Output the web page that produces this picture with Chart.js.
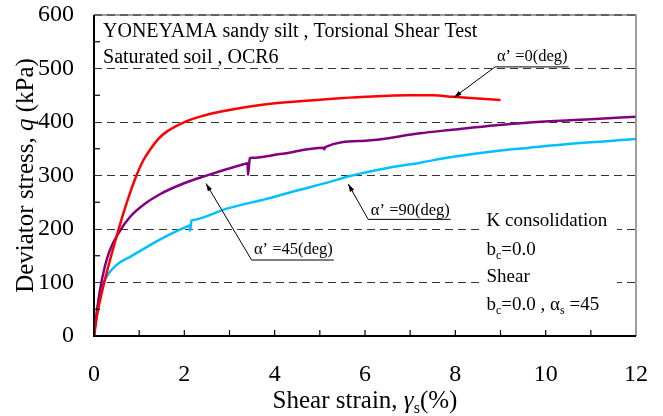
<!DOCTYPE html>
<html>
<head>
<meta charset="utf-8">
<script src="https://cdn.jsdelivr.net/npm/chart.js@4.4.0/dist/chart.umd.min.js"></script>
<style>
  html, body { margin: 0; padding: 0; background: #fff; }
</style>
</head>
<body>
<canvas id="chart" width="663" height="416"></canvas>
<script>
// --- dados ---
const xTickValues = [0, 2, 4, 6, 8, 10, 12];
const yTickValues = [0, 100, 200, 300, 400, 500, 600];

// alpha' = 0 (vermelho)
const strain0 = [0, 0.074, 0.17, 0.317, 0.5, 0.65, 0.8, 0.94, 1.09, 1.24, 1.42, 1.61, 1.98, 2.35, 2.79, 3.45, 4.0, 5.22, 6.0, 7.0, 7.5, 7.95, 8.5, 9.0];
const stress0 = [0, 42, 80, 130, 186, 229, 268, 300, 328, 348, 368, 382, 399, 410, 419, 429, 435, 443, 447, 450, 450, 447, 444, 441];

// alpha' = 45 (roxo)
const strain45 = [0, 0.04, 0.133, 0.24, 0.354, 0.54, 0.8, 1.09, 1.46, 1.98, 2.42, 3.31, 3.40, 3.41, 3.45, 3.50, 4.12, 5.08, 5.10, 5.12, 6.0, 7.22, 7.88, 8.91, 9.65, 11.0, 12.0];
const stress45 = [0, 30, 86, 130, 161, 192, 223, 245, 265, 285, 298, 321, 323, 301, 332, 333, 340, 352, 349, 353, 365, 379, 385, 394, 399, 405, 410];

// alpha' = 90 (ciano)
const strain90 = [0, 0.044, 0.133, 0.28, 0.5, 0.8, 1.24, 1.68, 2.09, 2.12, 2.125, 2.16, 2.18, 2.94, 3.9, 4.5, 5.22, 5.67, 6.5, 7.22, 7.88, 8.91, 9.65, 10.5, 12.0];
const stress90 = [0, 30, 80, 111, 133, 148, 170, 190, 206, 207, 197, 216, 216.6, 238, 258, 272, 288, 299, 314, 324, 334, 346, 352, 359, 368];

const serif = "'Liberation Serif', 'DejaVu Serif', serif";
Chart.defaults.font.family = serif;
Chart.defaults.color = '#000';

function pares(xs, ys) {
    return xs.map((x, i) => ({ x: x, y: ys[i] }));
}

// --- textos com sub-indice / italico ---
function fontOf(seg, size) {
    const s = seg.sub ? Math.round(size * 0.62) : size;
    return (seg.italic ? 'italic ' : '') + s + 'px ' + serif;
}
function larguraRica(ctx, segs, size) {
    let w = 0;
    segs.forEach(seg => { ctx.font = fontOf(seg, size); w += ctx.measureText(seg.t).width; });
    return w;
}
function desenhaRico(ctx, segs, x, y, size, align) {
    const total = larguraRica(ctx, segs, size);
    let cx = align === 'center' ? x - total / 2 : x;
    ctx.textBaseline = 'alphabetic';
    ctx.textAlign = 'left';
    segs.forEach(seg => {
        ctx.font = fontOf(seg, size);
        ctx.fillText(seg.t, cx, seg.sub ? y + size * 0.2 : y);
        cx += ctx.measureText(seg.t).width;
    });
    return total;
}

// anotacoes (posicoes em unidades do grafico)
const textosCaixa = [
    { x: 0.2, y: 558, segs: [{ t: 'YONEYAMA sandy silt , Torsional Shear Test' }] },
    { x: 0.2, y: 510, segs: [{ t: 'Saturated soil , OCR6' }] }
];
const textosDireita = [
    { x: 8.69, y: 206, segs: [{ t: 'K consolidation' }] },
    { x: 8.69, y: 151, segs: [{ t: 'b' }, { t: 'c', sub: true }, { t: '=0.0' }] },
    { x: 8.69, y: 101.5, segs: [{ t: 'Shear' }] },
    { x: 8.69, y: 48.6, segs: [{ t: 'b' }, { t: 'c', sub: true }, { t: '=0.0 , α' }, { t: 's', sub: true }, { t: ' =45' }] }
];
const setas = [
    { texto: 'α’ =0(deg)', tx: 8.92, ty: 514, ly: 503, lx: 8.88, px: 7.97, py: 446 },
    { texto: 'α’ =90(deg)', tx: 6.13, ty: 226, ly: 218, lx: 6.07, px: 5.63, py: 284 },
    { texto: 'α’ =45(deg)', tx: 3.54, ty: 153, ly: 142, lx: 3.49, px: 2.48, py: 285 }
];

const pluginMoldura = {
    id: 'moldura',
    beforeDatasetsDraw(chart) {
        const ctx = chart.ctx, xs = chart.scales.x, ys = chart.scales.y;
        // fundo branco da legenda da direita (corta as linhas tracejadas)
        ctx.save();
        ctx.fillStyle = '#fff';
        const x1 = xs.getPixelForValue(8.59), x2 = xs.getPixelForValue(11.58);
        const y1 = ys.getPixelForValue(245), y2 = ys.getPixelForValue(34);
        ctx.fillRect(x1, y1, x2 - x1, y2 - y1);
        ctx.restore();
    },
    afterDatasetsDraw(chart) {
        const ctx = chart.ctx, xs = chart.scales.x, ys = chart.scales.y;
        const a = chart.chartArea;
        ctx.save();

        // marcas menores para dentro
        ctx.strokeStyle = '#000';
        ctx.lineWidth = 1.2;
        for (let v = 50; v < 600; v += 100) {
            const py = ys.getPixelForValue(v);
            ctx.beginPath(); ctx.moveTo(a.left, py); ctx.lineTo(a.left + 6, py); ctx.stroke();
        }
        for (let v = 1; v < 12; v += 1) {
            const px = xs.getPixelForValue(v);
            ctx.beginPath(); ctx.moveTo(px, a.bottom); ctx.lineTo(px, a.bottom - 6); ctx.stroke();
        }

        // moldura
        ctx.lineWidth = 1.5;
        ctx.strokeStyle = '#808080';
        ctx.beginPath(); ctx.moveTo(a.left, a.top); ctx.lineTo(a.right, a.top); ctx.lineTo(a.right, a.bottom); ctx.stroke();
        ctx.setLineDash([8, 5]);
        ctx.strokeStyle = '#222';
        ctx.lineWidth = 1;
        ctx.beginPath(); ctx.moveTo(a.left, a.top); ctx.lineTo(a.right, a.top); ctx.stroke();
        ctx.setLineDash([]);
        ctx.strokeStyle = '#000';
        ctx.lineWidth = 2;
        ctx.beginPath(); ctx.moveTo(a.left, a.top); ctx.lineTo(a.left, a.bottom); ctx.lineTo(a.right, a.bottom); ctx.stroke();

        // textos
        ctx.fillStyle = '#000';
        textosCaixa.forEach(t => desenhaRico(ctx, t.segs, xs.getPixelForValue(t.x), ys.getPixelForValue(t.y), 20, 'left'));
        textosDireita.forEach(t => desenhaRico(ctx, t.segs, xs.getPixelForValue(t.x), ys.getPixelForValue(t.y), 19, 'left'));

        // setas com rotulo sublinhado
        setas.forEach(s => {
            const tx = xs.getPixelForValue(s.tx), ty = ys.getPixelForValue(s.ty);
            const w = desenhaRico(ctx, [{ t: s.texto }], tx, ty, 16.5, 'left');
            const lx = xs.getPixelForValue(s.lx), ly = ys.getPixelForValue(s.ly);
            const px = xs.getPixelForValue(s.px), py = ys.getPixelForValue(s.py);
            ctx.strokeStyle = '#000';
            ctx.lineWidth = 1;
            ctx.beginPath(); ctx.moveTo(tx + w + 1, ly); ctx.lineTo(lx, ly); ctx.lineTo(px, py); ctx.stroke();
            const ang = Math.atan2(py - ly, px - lx);
            ctx.beginPath();
            ctx.moveTo(px, py);
            ctx.lineTo(px - 8 * Math.cos(ang - 0.3), py - 8 * Math.sin(ang - 0.3));
            ctx.lineTo(px - 8 * Math.cos(ang + 0.3), py - 8 * Math.sin(ang + 0.3));
            ctx.closePath();
            ctx.fill();
        });

        // titulos dos eixos
        const cy = (a.top + a.bottom) / 2;
        ctx.save();
        ctx.translate(33, cy);
        ctx.rotate(-Math.PI / 2);
        desenhaRico(ctx, [{ t: 'Deviator stress, ' }, { t: 'q', italic: true }, { t: ' (kPa)' }], 0, 0, 25, 'center');
        ctx.restore();
        desenhaRico(ctx, [{ t: 'Shear strain, ' }, { t: 'γ', italic: true }, { t: 's', sub: true }, { t: '(%)' }], (a.left + a.right) / 2, 408, 25, 'center');

        ctx.restore();
    }
};

const serie = (label, xs, ys, cor) => ({
    label: label,
    data: pares(xs, ys),
    borderColor: cor,
    borderWidth: 2.5,
    pointRadius: 0,
    fill: false,
    cubicInterpolationMode: 'monotone'
});

const semCor = 'rgba(0,0,0,0)';

new Chart(document.getElementById('chart'), {
    type: 'line',
    data: {
        datasets: [
            serie("α' = 0", strain0, stress0, '#ff0000'),
            serie("α' = 45", strain45, stress45, '#800080'),
            serie("α' = 90", strain90, stress90, '#00c0ff')
        ]
    },
    options: {
        responsive: false,
        animation: false,
        devicePixelRatio: 1,
        layout: { padding: { left: 0, right: 27, top: 15, bottom: 0 } },
        plugins: { legend: { display: false }, tooltip: { enabled: false } },
        scales: {
            x: {
                type: 'linear', min: 0, max: 12,
                afterBuildTicks: s => { s.ticks = xTickValues.map(v => ({ value: v })); },
                afterFit: s => { s.height = 80; },
                // marcas invisiveis so para afastar os rotulos do eixo
                grid: { display: true, color: semCor, drawTicks: true, tickLength: 24, tickColor: semCor },
                border: { display: false },
                ticks: { font: { size: 24 }, padding: 0, maxRotation: 0 }
            },
            y: {
                type: 'linear', min: 0, max: 600,
                afterBuildTicks: s => { s.ticks = yTickValues.map(v => ({ value: v })); },
                afterFit: s => { s.width = 94; },
                grid: {
                    drawTicks: true,
                    tickLength: 20,
                    tickColor: semCor,
                    color: c => (c.tick.value > 0 && c.tick.value < 600) ? '#333' : semCor,
                    lineWidth: 1
                },
                border: { display: false, dash: [8, 5] },
                ticks: { font: { size: 24 }, padding: 0 }
            }
        }
    },
    plugins: [pluginMoldura]
});
</script>
</body>
</html>
